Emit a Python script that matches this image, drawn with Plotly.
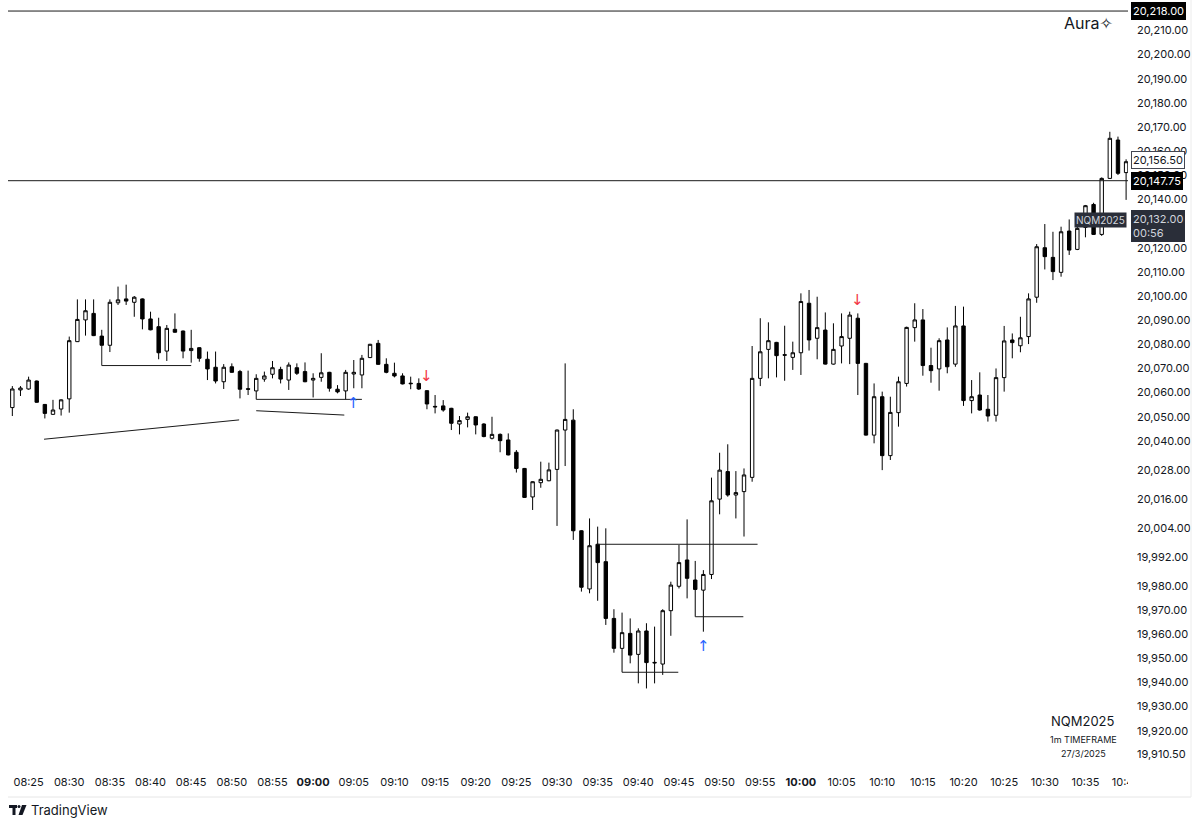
import plotly.graph_objects as go
import pandas as pd

# ---------------- data (1-minute NQM2025 candles, 27/3/2025) ----------------
start_time = "2025-03-27 08:23"
opens = [20053.8, 20061.1, 20061.5, 20064.8, 20055.1, 20051.0, 20053.2, 20057.4, 20081.1, 20090.1,
         20092.8, 20083.4, 20079.6, 20097.2, 20098.8, 20097.4, 20098.8, 20090.5, 20087.3, 20077.2,
         20086.2, 20085.5, 20077.4, 20078.6, 20073.8, 20070.5, 20064.5, 20070.7, 20068.7, 20061.6,
         20060.7, 20065.6, 20067.6, 20069.6, 20065.2, 20070.3, 20068.7, 20065.2, 20066.3, 20068.4,
         20061.4, 20060.7, 20067.7, 20067.3, 20074.5, 20080.4, 20071.7, 20068.0, 20066.9, 20063.9,
         20063.8, 20060.8, 20054.3, 20054.5, 20053.5, 20047.0, 20048.9, 20050.0, 20047.0, 20041.1,
         20042.7, 20040.4, 20035.3, 20028.6, 20016.8, 20022.7, 20023.5, 20028.2, 20044.5, 20048.6,
         20002.8, 19978.7, 19997.2, 19990.0, 19966.5, 19954.1, 19960.3, 19951.6, 19961.3, 19948.3,
         19947.6, 19969.7, 19979.8, 19990.7, 19982.4, 19978.2, 19984.7, 20015.9, 20027.3, 20017.6,
         20019.0, 20024.9, 20065.9, 20077.9, 20080.8, 20075.7, 20074.6, 20076.5, 20097.0, 20082.5,
         20085.9, 20071.8, 20079.3, 20082.5, 20090.8, 20072.1, 20042.4, 20058.3, 20033.9, 20051.7,
         20063.8, 20086.9, 20090.1, 20071.2, 20069.8, 20081.8, 20071.8, 20087.6, 20056.7, 20059.0,
         20053.1, 20050.6, 20066.2, 20081.8, 20079.4, 20083.2, 20099.5, 20120.0, 20116.0, 20109.8,
         20126.9, 20119.3, 20128.4, 20137.9, 20125.5, 20148.7, 20164.6, 20151.1]
highs = [20062.7, 20062.7, 20066.6, 20065.0, 20055.3, 20057.0, 20057.2, 20083.2, 20098.6, 20098.6,
         20098.6, 20086.0, 20098.6, 20103.9, 20104.7, 20100.0, 20099.0, 20093.5, 20091.0, 20088.0,
         20092.8, 20085.7, 20086.0, 20078.8, 20077.0, 20077.0, 20071.8, 20072.1, 20069.4, 20069.1,
         20067.6, 20068.7, 20073.1, 20070.7, 20072.5, 20072.1, 20072.5, 20068.0, 20076.3, 20068.6,
         20063.1, 20069.4, 20073.5, 20075.6, 20080.2, 20081.8, 20074.2, 20072.4, 20068.0, 20066.6,
         20065.9, 20061.0, 20059.0, 20056.9, 20053.7, 20050.3, 20051.7, 20050.2, 20047.3, 20050.0,
         20043.1, 20043.1, 20036.2, 20028.8, 20023.3, 20031.4, 20031.0, 20044.7, 20072.1, 20053.1,
         20003.0, 20007.9, 20004.5, 20003.8, 19970.3, 19968.9, 19966.5, 19962.4, 19964.5, 19963.1,
         19970.3, 19981.7, 19996.9, 20007.5, 19990.3, 19986.5, 20024.8, 20035.1, 20038.6, 20027.5,
         20028.6, 20079.3, 20090.8, 20089.1, 20081.0, 20087.7, 20081.1, 20101.1, 20102.5, 20099.7,
         20093.2, 20088.7, 20092.8, 20093.5, 20092.8, 20072.3, 20063.8, 20060.4, 20058.3, 20066.6,
         20087.3, 20097.0, 20094.6, 20078.6, 20082.5, 20087.0, 20095.9, 20095.6, 20065.2, 20068.4,
         20059.0, 20070.0, 20087.6, 20084.5, 20091.4, 20101.1, 20121.5, 20129.8, 20126.6, 20128.7,
         20131.7, 20132.2, 20137.7, 20138.6, 20149.1, 20168.0, 20166.0, 20156.6]
lows = [20050.3, 20058.6, 20061.2, 20055.8, 20049.3, 20050.8, 20050.5, 20051.7, 20081.0, 20083.6,
        20083.4, 20079.4, 20076.8, 20096.3, 20096.3, 20091.4, 20086.2, 20085.8, 20073.8, 20073.1,
        20084.8, 20074.2, 20072.4, 20072.8, 20065.2, 20063.8, 20061.5, 20068.2, 20057.6, 20059.0,
        20057.2, 20064.5, 20065.9, 20063.8, 20061.1, 20067.3, 20064.3, 20058.0, 20064.5, 20060.4,
        20059.7, 20057.2, 20061.8, 20061.8, 20074.3, 20071.5, 20068.0, 20066.3, 20063.4, 20061.4,
        20061.1, 20053.1, 20051.4, 20052.1, 20044.5, 20042.7, 20045.6, 20042.7, 20041.5, 20040.6,
        20035.3, 20034.0, 20026.9, 20016.4, 20011.4, 20020.6, 20023.3, 20004.8, 20029.6, 19999.0,
        19977.6, 19976.9, 19973.8, 19963.8, 19952.3, 19944.2, 19947.9, 19939.6, 19937.5, 19939.6,
        19943.1, 19959.3, 19978.9, 19974.8, 19967.2, 19961.0, 19982.8, 20009.6, 20016.9, 20007.9,
        20000.4, 20023.1, 20062.7, 20065.9, 20066.3, 20064.9, 20069.4, 20067.3, 20077.4, 20073.8,
        20071.6, 20071.6, 20072.1, 20071.8, 20059.0, 20042.2, 20039.0, 20027.9, 20032.1, 20045.9,
        20062.5, 20081.1, 20067.0, 20064.1, 20060.8, 20068.0, 20070.7, 20054.5, 20051.4, 20052.5,
        20048.0, 20048.0, 20060.4, 20074.2, 20076.7, 20080.1, 20097.2, 20111.0, 20106.6, 20108.0,
        20117.0, 20119.0, 20124.3, 20125.3, 20124.9, 20148.5, 20150.1, 20139.8]
closes = [20061.5, 20061.9, 20065.2, 20056.0, 20051.4, 20052.8, 20057.0, 20081.5, 20090.3, 20093.9,
          20083.6, 20079.6, 20097.4, 20098.4, 20097.9, 20099.5, 20090.5, 20086.0, 20076.5, 20086.6,
          20085.0, 20077.2, 20078.3, 20074.2, 20069.8, 20064.8, 20070.5, 20068.4, 20061.4, 20061.4,
          20065.9, 20066.9, 20070.3, 20065.6, 20071.4, 20068.0, 20064.5, 20065.9, 20068.2, 20061.8,
          20060.3, 20068.4, 20068.4, 20074.2, 20080.0, 20071.7, 20068.4, 20066.9, 20063.6, 20063.7,
          20061.5, 20055.3, 20054.1, 20052.8, 20047.3, 20048.4, 20050.0, 20046.6, 20041.8, 20042.7,
          20040.1, 20034.2, 20028.6, 20016.6, 20023.1, 20024.1, 20028.0, 20044.5, 20048.9, 20002.8,
          19979.4, 19996.6, 19989.6, 19966.5, 19954.1, 19960.6, 19951.3, 19961.3, 19948.2, 19948.1,
          19969.7, 19980.3, 19989.6, 19983.1, 19978.5, 19984.7, 20015.2, 20027.9, 20017.6, 20018.6,
          20025.9, 20065.9, 20076.9, 20081.5, 20075.3, 20075.5, 20076.5, 20097.7, 20081.8, 20086.9,
          20071.8, 20077.9, 20083.2, 20092.1, 20072.1, 20042.4, 20058.3, 20033.9, 20051.8, 20064.5,
          20087.0, 20090.1, 20071.2, 20069.1, 20081.5, 20070.7, 20087.6, 20056.7, 20058.3, 20052.8,
          20050.3, 20066.2, 20081.4, 20080.7, 20082.7, 20098.8, 20120.4, 20116.3, 20110.1, 20126.6,
          20119.0, 20128.0, 20137.4, 20125.5, 20148.7, 20165.3, 20150.8, 20155.6]

times = pd.date_range(start_time, periods=len(opens), freq="1min")

# price-axis ticks (as printed by TradingView)
price_ticks = [20220, 20210, 20200, 20190, 20180, 20170, 20160, 20150, 20140, 20120,
               20110, 20100, 20090, 20080, 20070, 20060, 20050, 20040, 20028, 20016, 20004,
               19992, 19980, 19970, 19960, 19950, 19940, 19930, 19920, 19910.5]
time_ticks = ["08:25", "08:30", "08:35", "08:40", "08:45", "08:50", "08:55", "09:00", "09:05",
              "09:10", "09:15", "09:20", "09:25", "09:30", "09:35", "09:40", "09:45", "09:50",
              "09:55", "10:00", "10:05", "10:10", "10:15", "10:20", "10:25", "10:30", "10:35", "10:40"]
bold_ticks = ["09:00", "10:00"]

# horizontal price levels drawn across the chart
level_lines = [20218.00, 20147.75]
# price labels on the axis: (price, text, background, text colour, border)
axis_labels = [
    (20218.00, "20,218.00", "#000000", "#ffffff", "#000000"),
    (20156.50, "20,156.50", "#ffffff", "#131722", "#434651"),
    (20147.75, "20,147.75", "#000000", "#ffffff", "#000000"),
]
current_price = 20132.00
countdown = "00:56"
symbol = "NQM2025"

# hand-drawn lines: (start time, start price, end time, end price)
drawings = [
    ("08:34", 20079.6, "08:34", 20071.2),
    ("08:34", 20071.2, "08:45", 20071.2),
    ("08:26:54", 20040.7, "08:50:54", 20048.7),
    ("08:53", 20052.5, "09:03:50", 20050.7),
    ("08:53", 20057.2, "09:06", 20057.2),
    ("09:35", 19997.2, "09:54:40", 19997.2),
    ("09:38", 19944.2, "09:44:55", 19944.2),
    ("09:47", 19967.2, "09:52:55", 19967.2),
]
# signal arrows: (time, price, symbol, colour)
arrows = [
    ("09:05", 20055.5, "↑", "#2962ff"),
    ("09:14", 20067.0, "↓", "#f23645"),
    ("09:48", 19955.0, "↑", "#2962ff"),
    ("10:07", 20098.5, "↓", "#f23645"),
]

DAY = "2025-03-27 "
FONT = "Inter, Roboto, 'DejaVu Sans', sans-serif"
TXT = "#131722"

# plot area geometry in pixels
W, H = 1200, 826
L, R, T, B = 8, 72, 0, 56
PW, PH = W - L - R, H - T - B


def px(xp):
    return (xp - L) / PW


def py(yp):
    return (T + PH - yp) / PH


fig = go.Figure()
fig.add_trace(go.Candlestick(
    x=times, open=opens, high=highs, low=lows, close=closes,
    increasing=dict(line=dict(color="#000000", width=1), fillcolor="#ffffff"),
    decreasing=dict(line=dict(color="#000000", width=1), fillcolor="#000000"),
    whiskerwidth=0, hoverinfo="skip", showlegend=False,
))

shapes = []
for lv in level_lines:
    shapes.append(dict(type="line", xref="paper", yref="y", x0=0, x1=1, y0=lv, y1=lv,
                       line=dict(color="#1a1a1a", width=1)))
for t0, p0, t1, p1 in drawings:
    shapes.append(dict(type="line", xref="x", yref="y", x0=DAY + t0, y0=p0, x1=DAY + t1, y1=p1,
                       line=dict(color="#1a1a1a", width=1)))

# cover for clipped time labels under the price scale
shapes.append(dict(type="rect", xref="paper", yref="paper", x0=1, x1=px(1199), y0=py(800), y1=py(771),
                   fillcolor="#ffffff", line=dict(width=0), layer="above"))
# widget frame lines
shapes.append(dict(type="line", xref="paper", yref="paper", x0=0, x1=px(1191), y0=py(797), y1=py(797),
                   line=dict(color="#e6e6e6", width=1), layer="above"))
shapes.append(dict(type="line", xref="paper", yref="paper", x0=px(1191), x1=px(1191), y0=py(797), y1=py(0),
                   line=dict(color="#ececec", width=1), layer="above"))
# TradingView logo mark
shapes += [
    dict(type="rect", xref="paper", yref="paper", x0=px(9), x1=px(17), y0=py(808), y1=py(805),
         fillcolor=TXT, line=dict(width=0)),
    dict(type="rect", xref="paper", yref="paper", x0=px(12.5), x1=px(15.5), y0=py(815), y1=py(805),
         fillcolor=TXT, line=dict(width=0)),
    dict(type="circle", xref="paper", yref="paper", x0=px(17.5), x1=px(20.5), y0=py(808), y1=py(805),
         fillcolor=TXT, line=dict(width=0)),
    dict(type="path", xref="paper", yref="paper",
         path=f"M {px(22)} {py(805)} L {px(26.5)} {py(805)} L {px(22.5)} {py(815)} L {px(18.5)} {py(815)} Z",
         fillcolor=TXT, line=dict(width=0)),
]

ann = []
for p, txt, bg, fg, bd in axis_labels:
    ann.append(dict(xref="paper", yref="y", x=1, y=p, xanchor="left", yanchor="middle", xshift=3,
                    text=txt, showarrow=False, bgcolor=bg, bordercolor=bd, borderwidth=1, borderpad=1,
                    font=dict(family=FONT, size=11, color=fg)))
ann.append(dict(xref="paper", yref="y", x=1, y=current_price, xanchor="left", yanchor="top", xshift=3,
                yshift=9, text=f"{current_price:,.2f}<br>{countdown}", align="left", showarrow=False,
                bgcolor="#2a2e39", bordercolor="#2a2e39", borderwidth=1, borderpad=1,
                font=dict(family=FONT, size=11, color="#d1d4dc")))
ann.append(dict(xref="paper", yref="y", x=1, y=current_price, xanchor="right", yanchor="middle", xshift=-1,
                yshift=-1, text=symbol, showarrow=False, bgcolor="#2a2e39", borderpad=1,
                font=dict(family=FONT, size=10, color="#d1d4dc")))
for t, p, s, c in arrows:
    ann.append(dict(xref="x", yref="y", x=DAY + t, y=p, text=s, showarrow=False,
                    xanchor="center", yanchor="middle",
                    font=dict(family="DejaVu Sans, sans-serif", size=15, color=c)))
ann += [
    dict(xref="paper", yref="paper", x=px(1088), y=py(23), text="Aura✧", showarrow=False,
         xanchor="center", yanchor="middle", font=dict(family=FONT, size=16, color=TXT)),
    dict(xref="paper", yref="paper", x=px(1083), y=py(721), text=symbol, showarrow=False,
         xanchor="center", yanchor="middle", font=dict(family=FONT, size=13, color=TXT)),
    dict(xref="paper", yref="paper", x=px(1083), y=py(739), text="1m TIMEFRAME", showarrow=False,
         xanchor="center", yanchor="middle", font=dict(family=FONT, size=9, color=TXT)),
    dict(xref="paper", yref="paper", x=px(1083), y=py(753), text="27/3/2025", showarrow=False,
         xanchor="center", yanchor="middle", font=dict(family=FONT, size=9, color=TXT)),
    dict(xref="paper", yref="paper", x=px(29), y=py(810), xanchor="left", yanchor="middle",
         text="TradingView", showarrow=False, font=dict(family=FONT, size=13, color=TXT)),
]

fig.update_layout(
    width=W, height=H, margin=dict(l=L, r=R, t=T, b=B),
    paper_bgcolor="#ffffff", plot_bgcolor="#ffffff",
    boxgap=0.4, showlegend=False, hovermode=False,
    shapes=shapes, annotations=ann,
    font=dict(family=FONT, size=11, color=TXT),
)
fig.update_xaxes(
    type="date", range=[DAY + "08:22:28", DAY + "10:40:14"], rangeslider=dict(visible=False),
    tickvals=[DAY + t for t in time_ticks],
    ticktext=[f"<b>{t}</b>" if t in bold_ticks else t for t in time_ticks],
    showgrid=False, zeroline=False, showline=False, ticks="", ticklabelstandoff=4,
    tickfont=dict(family=FONT, size=11, color=TXT),
)
fig.update_yaxes(
    side="right", range=[19903.73, 20222.57], tickvals=price_ticks,
    ticktext=[f"{v:,.2f}" for v in price_ticks],
    showgrid=False, zeroline=False, showline=False, ticks="", ticklabelstandoff=8,
    tickfont=dict(family=FONT, size=11, color=TXT),
)

fig.write_html("out.html", config={"displayModeBar": False},
               post_script="document.body.style.margin='0px';document.body.style.overflow='hidden';")
